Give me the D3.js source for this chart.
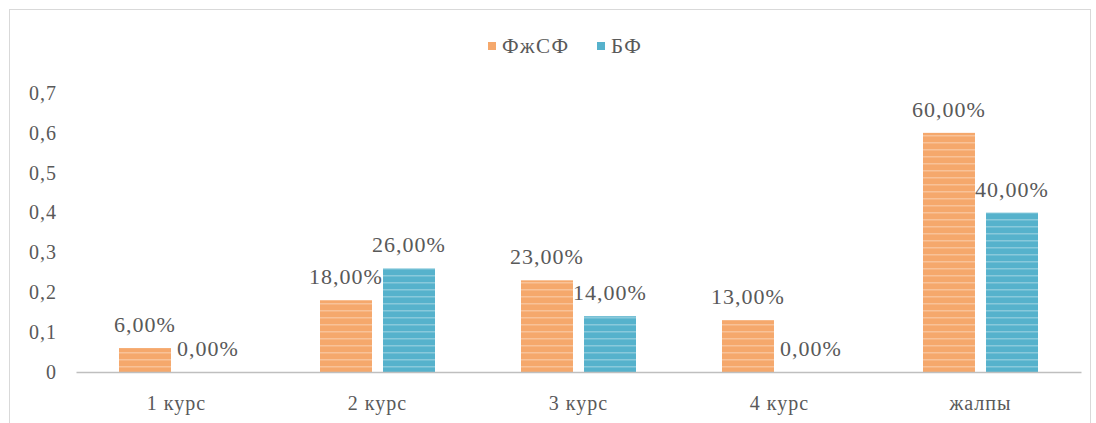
<!DOCTYPE html>
<html>
<head>
<meta charset="utf-8">
<script src="https://cdn.jsdelivr.net/npm/d3@7"></script>
<style>
  body { margin: 0; background: #fff; }
</style>
</head>
<body>
<script>
// data
let categories = ["1 курс", "2 курс", "3 курс", "4 курс", "жалпы"]
let series = ["ФжСФ", "БФ"]
let fjsf = [0.06, 0.18, 0.23, 0.13, 0.60]
let bf = [0.00, 0.26, 0.14, 0.00, 0.40]
let yTicks = [0, 0.1, 0.2, 0.3, 0.4, 0.5, 0.6, 0.7]
let colors = ["#f5a86c", "#56b2cc"]

let W = 1096, H = 423
let svg = d3.select("body").append("svg")
    .attr("width", W)
    .attr("height", H)

// outer frame
svg.append("rect")
    .attr("x", 9.5).attr("y", 9.5)
    .attr("width", 1081).attr("height", 420)
    .attr("fill", "none")
    .attr("stroke", "#d9d9d9")

// striped fills, like the scanned bars
let defs = svg.append("defs")
colors.forEach(function(c, i){
    let p = defs.append("pattern")
        .attr("id", "stripe" + i)
        .attr("patternUnits", "userSpaceOnUse")
        .attr("width", 10).attr("height", 7)
    p.append("rect").attr("width", 10).attr("height", 7).attr("fill", c)
    p.append("rect").attr("y", 2).attr("width", 10).attr("height", 1.5)
        .attr("fill", "#fff").attr("opacity", 0.3)
})

let x0 = d3.scaleBand().domain(categories).range([76, 1081])
let x1 = d3.scaleBand().domain(series).range([0, 115]).paddingInner(0.175)
let y = d3.scaleLinear().domain([0, 0.7]).range([372, 93])
let off = (x0.bandwidth() - 115) / 2

// y axis labels (no axis line)
let yAxis = svg.append("g")
    .attr("transform", "translate(57,0)")
    .call(d3.axisLeft(y).tickValues(yTicks).tickSize(0).tickPadding(0)
        .tickFormat(d => d === 0 ? "0" : String(d).replace(".", ",")))
yAxis.select(".domain").remove()
yAxis.selectAll("text")
    .attr("font-size", 20)
    .attr("letter-spacing", 1)
    .attr("fill", "#595959")
    .attr("dy", "0.32em")

// bars
let rows = categories.map((c, i) => ({cat: c, vals: [fjsf[i], bf[i]]}))
let groups = svg.selectAll(".grp").data(rows).enter().append("g")
    .attr("transform", d => "translate(" + (x0(d.cat) + off) + ",0)")

groups.selectAll("rect").data(d => d.vals.map((v, j) => ({s: series[j], v: v, j: j})))
    .enter().append("rect")
    .attr("x", d => x1(d.s))
    .attr("y", d => y(d.v))
    .attr("width", x1.bandwidth())
    .attr("height", d => y(0) - y(d.v))
    .attr("fill", d => "url(#stripe" + d.j + ")")

groups.selectAll(".lbl").data(d => d.vals.map((v, j) => ({s: series[j], v: v})))
    .enter().append("text")
    .attr("x", d => x1(d.s) + x1.bandwidth() / 2)
    .attr("y", d => y(d.v) - 16)
    .attr("text-anchor", "middle")
    .attr("font-size", 22)
    .attr("letter-spacing", 1)
    .attr("fill", "#595959")
    .text(d => d3.format(".2f")(d.v * 100).replace(".", ",") + "%")

// x axis
let xAxis = svg.append("g")
    .attr("transform", "translate(0,372)")
    .call(d3.axisBottom(x0).tickSize(0).tickPadding(24))
xAxis.select(".domain").attr("stroke", "#bfbfbf").attr("stroke-width", 1.5)
xAxis.selectAll("text")
    .attr("font-size", 20)
    .attr("letter-spacing", 1)
    .attr("fill", "#595959")

// legend
let legend = svg.append("g")
let lx = [488, 597]
series.forEach(function(s, i){
    legend.append("rect")
        .attr("x", lx[i]).attr("y", 42)
        .attr("width", 8).attr("height", 8)
        .attr("fill", colors[i])
    legend.append("text")
        .attr("x", lx[i] + 14).attr("y", 53)
        .attr("font-size", 21)
        .attr("letter-spacing", 1.5)
        .attr("fill", "#595959")
        .text(s)
})

// same serif face on every text, set on the element itself
svg.selectAll("text").attr("font-family", "Liberation Serif")
</script>
</body>
</html>
